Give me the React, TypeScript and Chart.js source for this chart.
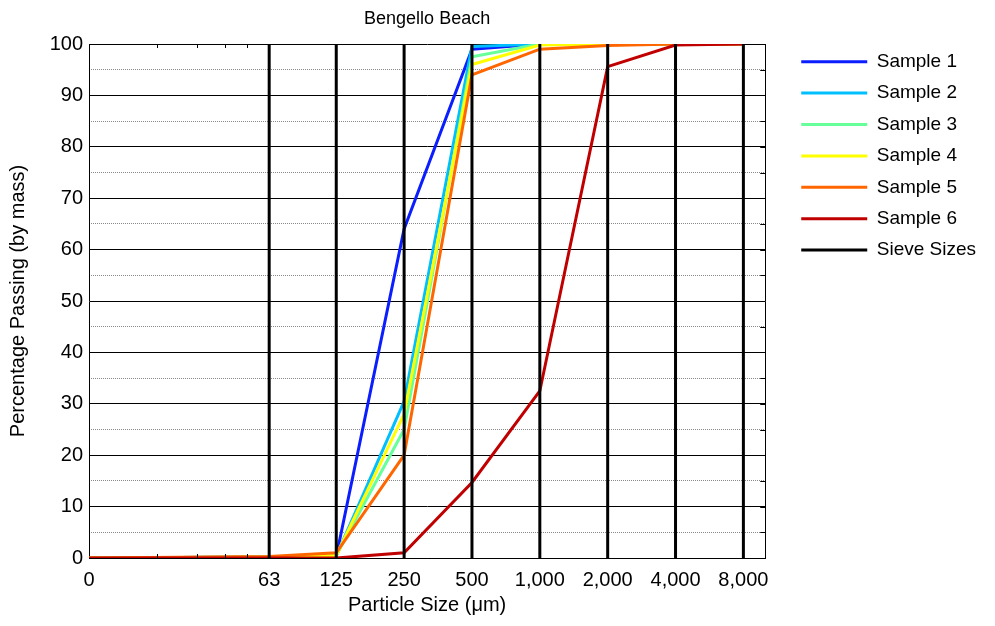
import { useEffect, useRef } from 'react';
import { Chart, registerables } from 'chart.js';

Chart.register(...registerables);

// ---- data ----
const sizes = [10, 63, 125, 250, 500, 1000, 2000, 4000, 8000];
const tickLabels = ['0', '63', '125', '250', '500', '1,000', '2,000', '4,000', '8,000'];
const sieveSizes = [63, 125, 250, 500, 1000, 2000, 4000, 8000];
const minorTicks = [20, 30, 40, 50];

const sample1 = [0, 0.2, 0.3, 64, 99, 100, 100, 100, 100];
const sample2 = [0, 0.2, 0.4, 30.5, 99.5, 100, 100, 100, 100];
const sample3 = [0, 0.2, 0.5, 25, 97.5, 100, 100, 100, 100];
const sample4 = [0, 0.2, 0.5, 28, 96, 99.8, 100, 100, 100];
const sample5 = [0, 0.3, 1.0, 20, 94, 99, 99.7, 100, 100];
const sample6 = [0, 0, 0, 1, 14.7, 32.5, 95.6, 99.8, 100];

const sampleNames = ['Sample 1', 'Sample 2', 'Sample 3', 'Sample 4', 'Sample 5', 'Sample 6'];
const sampleValues = [sample1, sample2, sample3, sample4, sample5, sample6];
const sampleColors = ['#0a1eff', '#00bfff', '#66ff99', '#ffff00', '#ff6600', '#c00000'];

const FONT = "'Liberation Sans', Arial, sans-serif";

const edgeTicksPlugin = {
  id: 'edgeTicks',
  afterDatasetsDraw(chart: any) {
    const { ctx, chartArea, scales } = chart;
    const { top, bottom, right } = chartArea;
    const x = scales.x;
    const y = scales.y;
    ctx.save();
    ctx.strokeStyle = '#000';
    ctx.lineWidth = 1;
    ctx.beginPath();
    minorTicks.forEach((v) => {
      const px = Math.round(x.getPixelForValue(v)) + 0.5;
      ctx.moveTo(px, bottom);
      ctx.lineTo(px, bottom - 4);
      ctx.moveTo(px, top);
      ctx.lineTo(px, top + 4);
    });
    for (let v = 0; v <= 100; v += 5) {
      const py = Math.round(y.getPixelForValue(v)) + 0.5;
      ctx.moveTo(right, py);
      ctx.lineTo(right - 5, py);
    }
    ctx.stroke();
    ctx.restore();
  },
};

export default function App() {
  const ref = useRef<HTMLCanvasElement | null>(null);

  useEffect(() => {
    if (!ref.current) return;
    Chart.defaults.font.family = FONT;
    Chart.defaults.color = '#000';

    const sampleSets = sampleNames.map((name, i) => ({
      label: name,
      data: sizes.map((s, j) => ({ x: s, y: sampleValues[i][j] })),
      borderColor: sampleColors[i],
      backgroundColor: sampleColors[i],
      borderWidth: 3,
      pointRadius: 0,
      fill: false,
      tension: 0,
      order: 6 - i,
    }));
    const sieveSets = sieveSizes.map((s) => ({
      label: 'Sieve Sizes',
      data: [
        { x: s, y: 0 },
        { x: s, y: 100 },
      ],
      borderColor: '#000',
      backgroundColor: '#000',
      borderWidth: 3,
      pointRadius: 0,
      fill: false,
      order: 0,
    }));

    const chart = new Chart(ref.current, {
      type: 'line',
      data: { datasets: [...sampleSets, ...sieveSets] as any },
      plugins: [edgeTicksPlugin],
      options: {
        animation: false,
        responsive: false,
        events: [],
        layout: { padding: { top: 0, left: 0, right: 9, bottom: 0 } },
        scales: {
          x: {
            type: 'logarithmic',
            min: 10,
            max: 10000,
            afterBuildTicks: (scale: any) => {
              scale.ticks = sizes.map((v) => ({ value: v }));
            },
            afterFit: (scale: any) => {
              scale.height = 68;
            },
            ticks: {
              autoSkip: false,
              maxRotation: 0,
              padding: 2,
              font: { size: 20 },
              color: '#000',
              callback: (_v: any, i: number) => tickLabels[i],
            },
            grid: { display: false },
            border: { display: true, color: '#000', width: 1 },
            title: {
              display: true,
              text: 'Particle Size (\u03bcm)',
              font: { size: 20 },
              color: '#000',
              padding: { top: 0, bottom: 9 },
            },
          },
          yMinor: {
            type: 'linear',
            position: 'left',
            min: 0,
            max: 100,
            ticks: { display: false, stepSize: 5 },
            grid: {
              drawTicks: false,
              color: (c: any) => (c.tick && c.tick.value % 10 === 0 ? 'rgba(0,0,0,0)' : '#888'),
              lineWidth: 1,
            },
            border: { display: false, dash: [1, 1] },
          },
          y: {
            type: 'linear',
            position: 'left',
            min: 0,
            max: 100,
            afterFit: (scale: any) => {
              scale.width = 89;
            },
            ticks: {
              stepSize: 10,
              padding: 6,
              font: { size: 20 },
              color: '#000',
            },
            grid: { drawTicks: false, color: '#000', lineWidth: 1 },
            border: { display: true, color: '#000', width: 1 },
            title: {
              display: true,
              text: 'Percentage Passing (by mass)',
              font: { size: 20 },
              color: '#000',
              padding: { top: 6, bottom: 0 },
            },
          },
          y2: {
            type: 'linear',
            position: 'right',
            min: 0,
            max: 100,
            afterFit: (scale: any) => {
              scale.width = 23.6;
            },
            ticks: { display: false },
            grid: { display: false, drawOnChartArea: false, drawTicks: false },
            border: { display: true, color: '#000', width: 1 },
          },
        },
        plugins: {
          tooltip: { enabled: false },
          title: {
            display: true,
            text: 'Bengello Beach',
            fullSize: false,
            font: { size: 18, weight: 'normal' },
            color: '#000',
            padding: { top: 8, bottom: 14.4 },
          },
          legend: {
            display: true,
            position: 'right',
            align: 'start',
            maxWidth: 400,
            title: {
              display: true,
              text: ' ',
              font: { size: 12 },
              padding: { top: 25.4, bottom: 0 },
            },
            labels: {
              boxWidth: 66,
              boxHeight: 3,
              padding: 12.4,
              color: '#000',
              font: { size: 19 },
              filter: (item: any) => item.datasetIndex <= sampleNames.length,
              sort: (a: any, b: any) => a.datasetIndex - b.datasetIndex,
              generateLabels: (chart: any) =>
                (Chart.defaults.plugins.legend.labels as any)
                  .generateLabels(chart)
                  .map((l: any) => ({ ...l, fillStyle: l.strokeStyle, lineWidth: 0 })),
            },
          },
        },
      } as any,
    });
    return () => chart.destroy();
  }, []);

  return (
    <div style={{ position: 'fixed', left: 0, top: 0, width: 995, height: 626, background: '#fff' }}>
      <canvas ref={ref} width={995} height={626} style={{ display: 'block' }} />
    </div>
  );
}
